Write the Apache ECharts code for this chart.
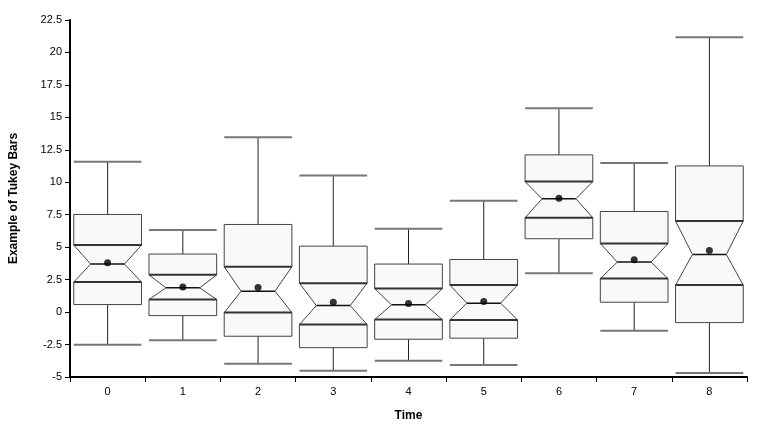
<!DOCTYPE html>
<html>
<head>
<meta charset="utf-8">
<script src="https://cdn.jsdelivr.net/npm/echarts@6/dist/echarts.min.js"></script>
<style>
	html, body { margin: 0; padding: 0; background: #fff; }
	#chart { width: 767px; height: 432px; }
</style>
</head>
<body>
<div id="chart"></div>
<script>
const times = ["0", "1", "2", "3", "4", "5", "6", "7", "8"];
const whiskerLow = [-2.51, -2.17, -3.97, -4.51, -3.74, -4.07, 3.0, -1.43, -4.69];
const boxLow = [0.58, -0.27, -1.86, -2.74, -2.09, -2.01, 5.65, 0.76, -0.81];
const notchLow = [2.31, 0.97, -0.04, -0.96, -0.58, -0.6, 7.27, 2.58, 2.08];
const medians = [3.7, 1.87, 1.61, 0.5, 0.56, 0.69, 8.73, 3.85, 4.44];
const notchHigh = [5.16, 2.87, 3.49, 2.23, 1.81, 2.08, 10.05, 5.29, 7.01];
const boxHigh = [7.52, 4.47, 6.75, 5.08, 3.7, 4.05, 12.11, 7.75, 11.26];
const whiskerHigh = [11.59, 6.32, 13.47, 10.53, 6.42, 8.58, 15.7, 11.49, 21.18];
const means = [3.8, 1.94, 1.89, 0.76, 0.66, 0.81, 8.76, 4.03, 4.75];

const FONT = "Liberation Sans";
const chart = echarts.init(document.getElementById("chart"));

const boxData = times.map((t, i) => [i, whiskerLow[i], boxLow[i], notchLow[i], medians[i], notchHigh[i], boxHigh[i], whiskerHigh[i]]);

function renderBox(params, api) {
	const i = api.value(0);
	const y = k => api.coord([i, api.value(k)])[1];
	const cx = api.coord([i, 0])[0];
	const hw = api.size([1, 0])[0] * 0.45;
	const nw = hw / 2;
	const L = cx - hw, R = cx + hw;
	const wl = y(1), q1 = y(2), nl = y(3), md = y(4), nh = y(5), q3 = y(6), wh = y(7);
	const dark = "#222";
	return {
		type     : "group",
		children : [
			{ type: "line", shape: { x1: cx, y1: q3, x2: cx, y2: wh }, style: { stroke: dark, lineWidth: 1 } },
			{ type: "line", shape: { x1: cx, y1: q1, x2: cx, y2: wl }, style: { stroke: dark, lineWidth: 1 } },
			{ type: "line", shape: { x1: L, y1: wh, x2: R, y2: wh }, style: { stroke: "#777", lineWidth: 2 } },
			{ type: "line", shape: { x1: L, y1: wl, x2: R, y2: wl }, style: { stroke: "#777", lineWidth: 2 } },
			{
				type  : "polygon",
				shape : {
					points: [
						[L, q3], [R, q3], [R, nh], [cx + nw, md], [R, nl], [R, q1],
						[L, q1], [L, nl], [cx - nw, md], [L, nh],
					],
				},
				style: { fill: "#f9f9f9", stroke: "#444", lineWidth: 1 },
			},
			{ type: "line", shape: { x1: L, y1: nh, x2: R, y2: nh }, style: { stroke: "#333", lineWidth: 2 } },
			{ type: "line", shape: { x1: L, y1: nl, x2: R, y2: nl }, style: { stroke: "#333", lineWidth: 2 } },
			{ type: "line", shape: { x1: cx - nw, y1: md, x2: cx + nw, y2: md }, style: { stroke: "#111", lineWidth: 1.5 } },
		],
	};
}

chart.setOption({
	animation : false,
	grid      : {
		left             : 70,
		right            : 20,
		top              : 20,
		bottom           : 55,
		outerBoundsMode  : "none",
		containLabel     : false,
	},
	xAxis: {
		type          : "category",
		data          : times,
		boundaryGap   : true,
		name          : "Time",
		nameLocation  : "middle",
		nameGap       : 33,
		nameTextStyle : { fontFamily: FONT, fontSize: 12, fontWeight: "bold", color: "#000" },
		axisLine      : { onZero: false, lineStyle: { color: "#000", width: 2 } },
		axisTick      : { show: true, alignWithLabel: false, interval: 0, length: 5, lineStyle: { color: "#000", width: 1 } },
		axisLabel     : { fontFamily: FONT, fontSize: 11, color: "#000", margin: 9 },
		splitLine     : { show: false },
	},
	yAxis: {
		type          : "value",
		min           : -5,
		max           : 22.5,
		interval      : 2.5,
		name          : "Example of Tukey Bars",
		nameLocation  : "middle",
		nameGap       : 50,
		nameTextStyle : { fontFamily: FONT, fontSize: 12, fontWeight: "bold", color: "#000" },
		axisLine      : { show: true, onZero: false, lineStyle: { color: "#000", width: 2 } },
		axisTick      : { show: true, length: 5, lineStyle: { color: "#000" } },
		axisLabel     : { fontFamily: FONT, fontSize: 11, color: "#000", margin: 8 },
		splitLine     : { show: false },
	},
	series: [
		{
			type       : "custom",
			renderItem : renderBox,
			data       : boxData,
			encode     : { x: 0, y: [1, 7] },
			z          : 2,
		},
		{
			type       : "scatter",
			data       : means.map((m, i) => [i, m]),
			symbol     : "circle",
			symbolSize : 7,
			itemStyle  : { color: "#000" },
			z          : 3,
		},
	],
});
</script>
</body>
</html>
